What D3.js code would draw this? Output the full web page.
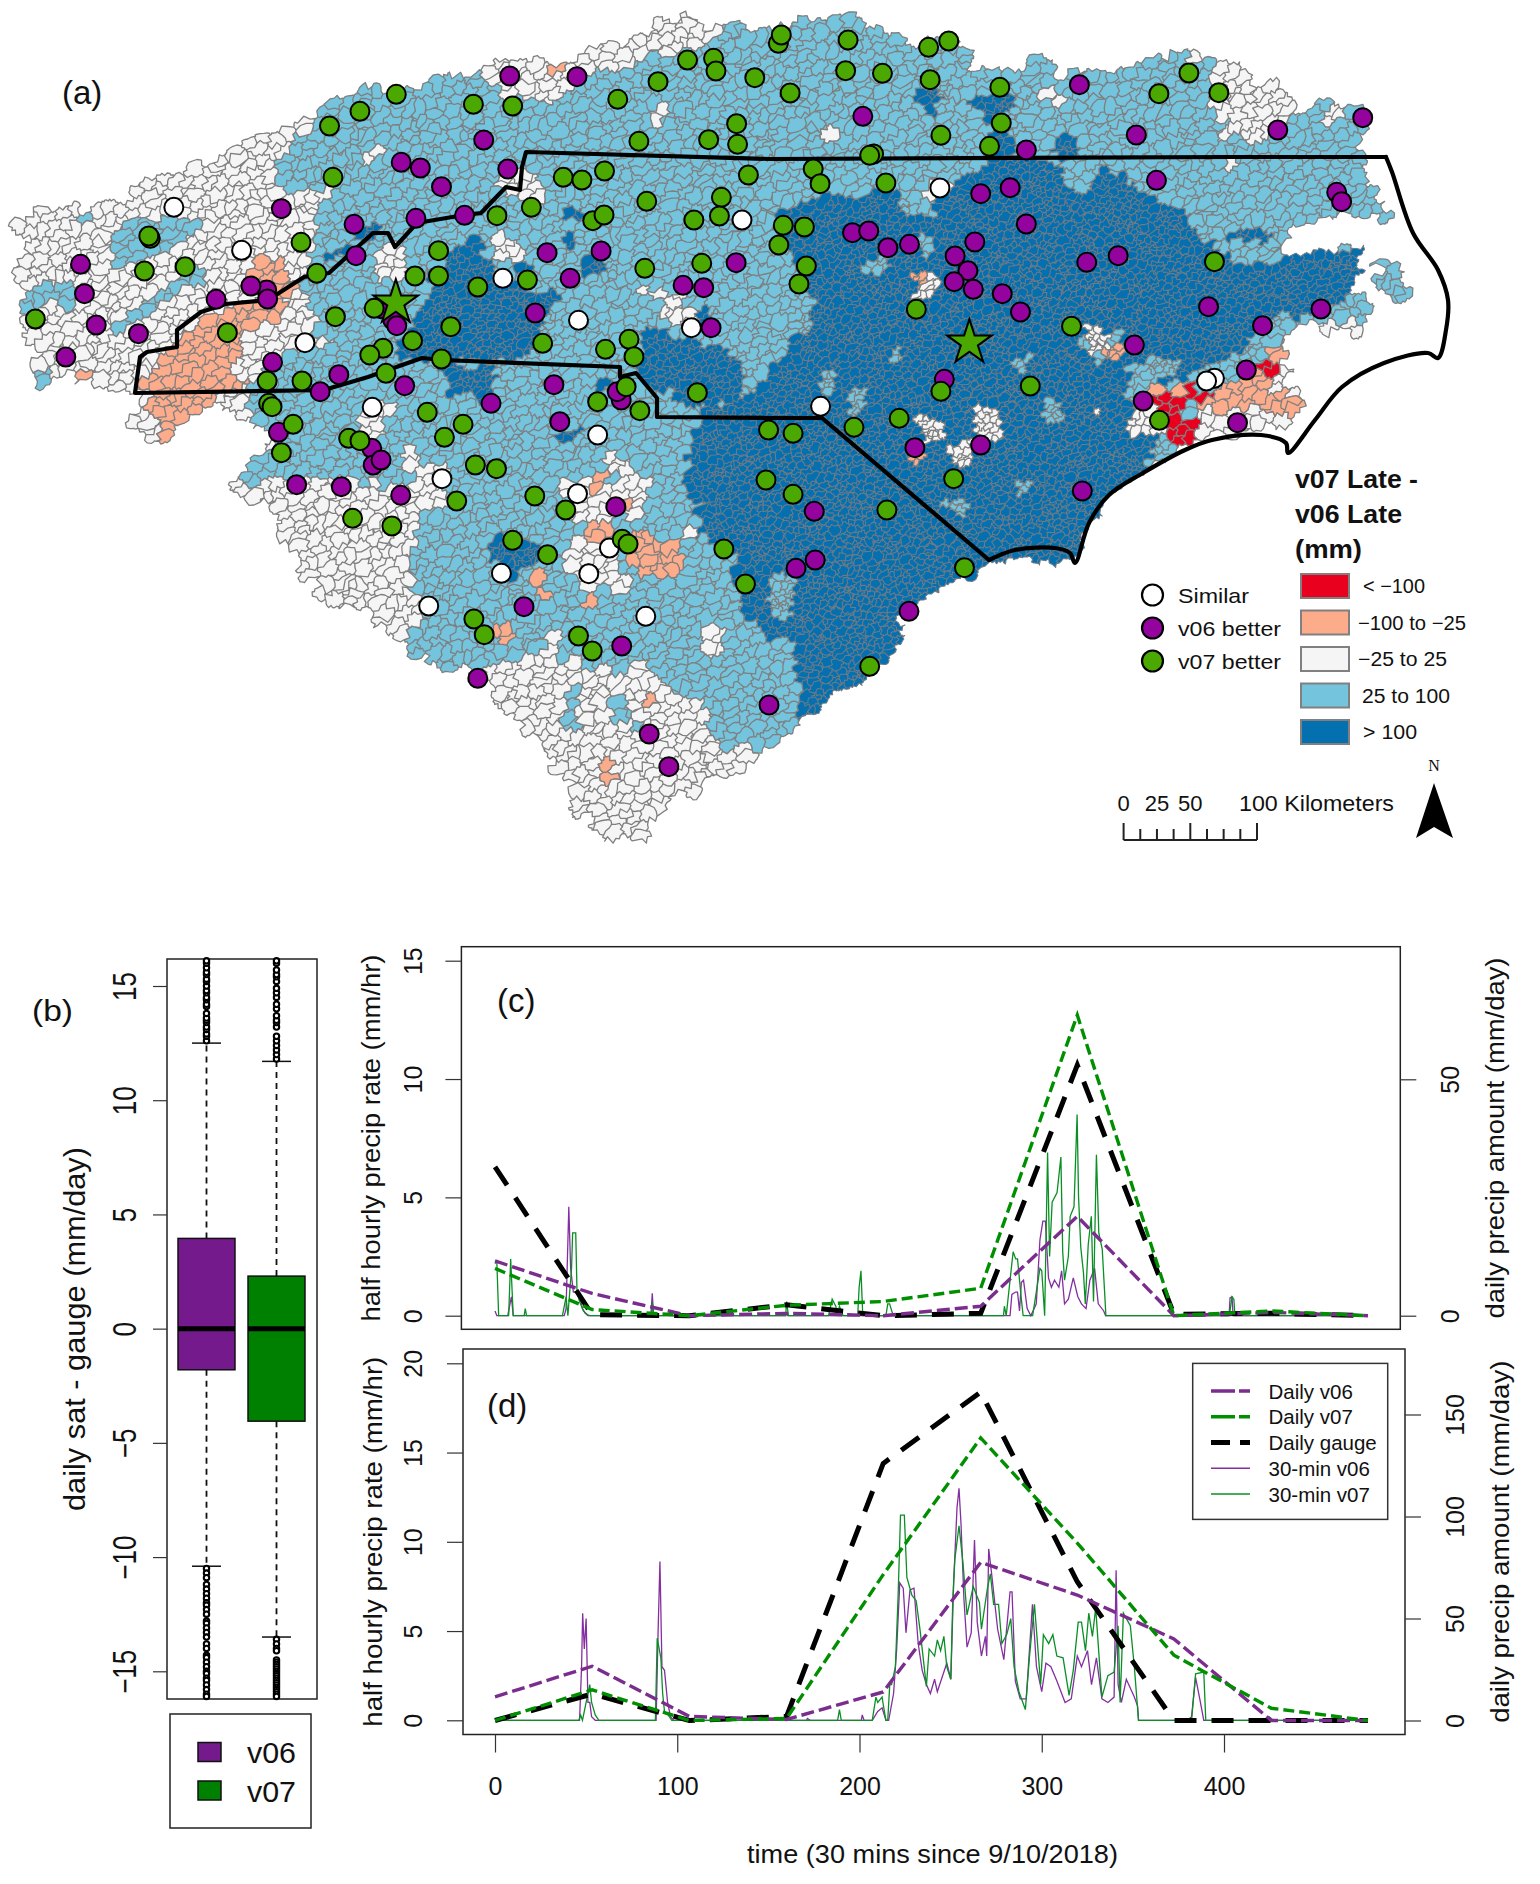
<!DOCTYPE html>
<html>
<head>
<meta charset="utf-8">
<script src="https://cdn.jsdelivr.net/npm/d3@7"></script>
<style>
  body { margin: 0; background: #fff; }
  svg { display: block; }
  text { font-family: "Liberation Sans", sans-serif; fill: #111; }
</style>
</head>
<body>
<div id="chart"></div>
<script>
// ---- panel (a): stations, read per map sheet (a sheet is 1568 x 1320 grid units)
const v07NW = [[807,283],[733,334],[671,378],[678,532],[964,313],[1044,318],[1400,180],[1453,175],[1458,213],[1537,233],[1340,245],[1258,298],[1500,371],[1443,419],[1502,433],[1301,424],[1524,525],[1147,532],[1185,540],[1231,513],[1317,604],[1469,592],[1465,648],[1413,660],[1207,662],[1230,645],[1082,622],[1012,647],[613,727],[893,752],[294,813],[377,800],[306,715],[303,708],[645,820],[845,828],[893,828],[973,861],[1074,840],[1313,805],[1429,790],[72,957],[683,950],[762,925],[463,998],[918,980],[840,1022],[780,1045],[753,1065],[899,1077],[1105,1030],[1281,1018],[1233,1048],[1291,1070],[786,1120],[615,1143],[544,1143],[547,1210],[554,1220],[1275,1160],[1217,1205],[1303,1232],[1420,1178],[870,1237],[943,1273],[597,1273],[710,1315],[905,1312],[1565,1290]];
const v06NW = [[1038,228],[1175,230],[985,420],[817,487],[856,504],[1034,507],[899,560],[573,626],[721,673],[847,655],[946,646],[725,767],[164,793],[172,881],[196,975],[282,1001],[134,1071],[440,898],[543,870],[511,858],[545,897],[1114,758],[1224,753],[1161,835],[1391,856],[1433,863],[1499,788],[775,926],[800,960],[808,977],[1090,939],[1448,983],[555,1087],[690,1124],[652,1175],[824,1157],[1128,1154],[1000,1210],[1140,1265],[1265,1200],[1257,1175],[567,1297]];
const similarNW = [[354,622],[492,751],[1024,835],[1178,961],[1408,983],[621,1028],[1511,660],[758,1222],[1217,1305]];
const v07NE = [[17,130],[23,105],[159,120],[323,142],[364,123],[154,212],[229,220],[326,239],[41,279],[468,262],[853,219],[792,281],[914,278],[471,369],[348,406],[447,439],[211,462],[203,466],[88,507],[102,551],[236,549],[27,676],[70,681],[18,735],[74,798],[59,852],[905,785],[298,928],[614,979],[348,1174],[530,1158],[263,1255],[171,1282],[793,1261],[47,1300]];
const v06NE = [[189,349],[630,254],[746,405],[1034,390],[1207,353],[522,450],[787,541],[489,563],[429,581],[1154,577],[1164,605],[522,672],[168,698],[201,693],[240,743],[284,733],[417,726],[377,768],[403,812],[375,845],[414,868],[473,881],[510,936],[645,787],[709,767],[893,920],[1122,927],[1003,977],[742,1035],[970,1110],[760,1203],[952,1268],[355,1138]];
const similarNE = [[346,564],[905,1135],[889,1143],[103,1219]];
const v07SW = [[573,98],[733,62],[968,135],[1011,146],[1089,228],[930,243],[1152,270],[718,295],[798,318],[1044,361],[1115,404],[1267,358],[1279,372],[1474,387],[1518,492],[965,597],[986,644],[1178,648],[1206,693],[1560,180]];
const v06SW = [[604,194],[695,200],[816,226],[757,85],[760,135],[776,120],[1254,260],[1067,560],[1266,678],[973,775],[1322,942],[1362,1040],[1566,855]];
const similarSW = [[900,176],[1176,221],[1241,384],[1021,460],[1199,461],[873,558],[1315,589]];
const v07SE = [[374,176],[47,223],[238,270],[396,443],[203,739]];
const v06SE = [[295,83],[429,75],[636,213],[90,274],[53,445],[92,420],[283,574]];
const starSites = [[806,905,'NW'],[406,1025,'NE']];

// ---- panel (a): region outlines in map grid units
const basinOutline = [[7,230],[61,202],[86,208],[115,208],[113,227],[137,177],[172,172],[216,160],[255,140],[319,113],[358,87],[408,87],[467,72],[516,57],[528,65],[565,58],[648,33],[661,20],[702,18],[707,27],[742,22],[770,32],[819,18],[844,15],[871,18],[876,30],[917,42],[966,43],[971,63],[996,77],[1038,60],[1065,75],[1114,67],[1178,53],[1219,62],[1266,82],[1281,90],[1293,108],[1325,103],[1367,102],[1374,128],[1362,143],[1362,170],[1384,203],[1386,217],[1335,218],[1305,220],[1281,237],[1268,247],[1310,248],[1335,250],[1364,245],[1359,263],[1354,293],[1372,305],[1354,333],[1325,330],[1308,317],[1298,333],[1281,353],[1281,370],[1305,407],[1291,420],[1291,427],[1261,430],[1212,438],[1185,450],[1143,473],[1109,495],[1089,523],[1074,560],[1000,560],[966,577],[927,593],[900,623],[898,653],[880,667],[853,683],[829,700],[799,723],[770,745],[737,767],[707,780],[688,798],[673,797],[670,810],[643,837],[616,838],[575,810],[577,793],[552,760],[486,690],[472,677],[437,668],[403,647],[378,620],[319,597],[305,573],[280,530],[280,513],[233,487],[255,463],[270,440],[246,420],[236,407],[211,403],[162,443],[157,443],[133,428],[133,417],[142,397],[113,390],[88,387],[74,370],[49,373],[45,388],[37,388],[34,363],[15,302],[34,287],[20,277],[29,250]];
const hatterasIsland = [[1379,257],[1400,262],[1406,285],[1404,300],[1385,298],[1379,280]];
const lightZones = [
  [[275,167],[320,113],[358,87],[408,87],[467,72],[510,95],[560,100],[600,75],[640,62],[690,50],[745,22],[770,32],[819,18],[844,15],[871,18],[917,42],[966,43],[996,77],[1038,60],[1065,75],[1114,67],[1178,53],[1210,62],[1215,110],[1225,135],[1281,135],[1293,108],[1325,103],[1367,102],[1374,128],[1362,170],[1384,203],[1386,217],[1305,220],[1268,247],[1364,245],[1354,293],[1372,305],[1354,333],[1300,317],[1281,353],[1281,370],[1250,395],[1143,473],[1074,560],[966,577],[880,667],[770,745],[720,750],[700,700],[640,680],[540,650],[491,673],[442,667],[403,647],[427,607],[408,577],[420,520],[417,487],[344,477],[305,480],[240,483],[240,467],[260,457],[275,440],[240,395],[315,333],[305,285],[310,240],[330,190],[275,190]],
  [[113,225],[205,215],[190,240],[150,262],[110,262]],
  [[15,300],[34,290],[64,283],[79,300],[49,310],[17,312]],
  [[105,330],[190,270],[205,275],[120,335]],
  [[37,373],[49,373],[45,388],[37,388]],
  [[78,210],[92,208],[92,222],[80,222]],
  [[555,690],[575,690],[590,735],[575,740]],
  [[600,700],[630,700],[640,730],[610,720]],
  hatterasIsland
];
const darkZones = [
  [[770,203],[819,203],[849,193],[893,187],[903,213],[932,217],[932,203],[971,167],[986,157],[1025,157],[1045,163],[1065,180],[1084,190],[1104,167],[1124,180],[1148,200],[1192,207],[1202,220],[1187,223],[1227,260],[1266,267],[1364,245],[1359,263],[1354,293],[1305,317],[1291,313],[1276,317],[1251,337],[1241,353],[1197,370],[1163,387],[1133,363],[1128,393],[1128,417],[1158,440],[1143,473],[1109,495],[1089,523],[1074,560],[1000,560],[966,577],[927,593],[900,623],[898,653],[880,667],[853,683],[829,700],[800,722],[795,640],[770,637],[751,613],[737,587],[737,553],[697,530],[702,507],[685,487],[688,463],[697,413],[740,400],[770,367],[790,340],[775,300],[795,270],[775,240]],
  [[638,333],[688,337],[740,360],[740,400],[690,407],[660,385],[650,390],[640,350]],
  [[467,230],[484,243],[491,267],[521,287],[565,297],[545,307],[540,337],[535,353],[501,360],[442,358],[403,357],[412,313],[427,287],[457,243]],
  [[442,363],[496,367],[491,400],[455,393]],
  [[585,372],[620,380],[620,390],[588,385]],
  [[560,200],[570,198],[585,220],[575,222]],
  [[555,227],[570,227],[575,245],[560,245]],
  [[510,260],[530,260],[535,272],[515,272]],
  [[585,262],[605,255],[610,270],[590,275]],
  [[592,137],[610,150],[605,155],[590,143]],
  [[345,227],[378,225],[375,240],[350,243]],
  [[330,247],[345,247],[345,255],[330,255]],
  [[700,310],[715,317],[712,330],[700,325]],
  [[912,90],[938,85],[940,120],[930,118]],
  [[974,100],[1000,85],[1020,100],[1000,118],[1015,160],[1000,160],[990,125]],
  [[790,130],[808,122],[810,135],[795,135]],
  [[1055,135],[1075,125],[1078,160],[1060,165]],
  [[1100,140],[1112,140],[1115,155],[1105,155]],
  [[1219,230],[1266,225],[1270,240],[1240,240]],
  [[487,540],[515,540],[525,545],[545,540],[535,565],[520,565],[510,600],[497,590],[505,565],[487,555]],
  [[560,427],[578,430],[578,443],[565,443]]
];
const lightHoles = [
  [[893,347],[903,347],[900,360],[895,360]],[[1016,358],[1030,358],[1025,370],[1016,370]],
  [[820,373],[833,373],[833,390],[820,390]],[[849,387],[868,387],[860,413],[850,413]],
  [[1045,403],[1060,403],[1060,420],[1045,420]],[[1015,480],[1035,480],[1030,495],[1018,495]],
  [[942,500],[970,500],[970,517],[960,517]],[[770,573],[795,573],[795,617],[770,617]],
  [[770,225],[780,225],[810,300],[808,335],[790,335],[785,300]],[[863,257],[888,257],[885,273],[865,273]],
  [[917,237],[932,237],[930,257],[918,257]],[[1143,360],[1178,360],[1178,377],[1143,377]],
  [[1075,337],[1120,330],[1125,362],[1095,365]]
];
const whiteHoles = [
  [[651,90],[665,95],[668,140],[655,135]],[[535,100],[590,70],[598,75],[545,105]],[[370,145],[395,145],[365,160]],
  [[490,178],[520,172],[550,200],[525,205]],[[490,233],[510,233],[525,260],[500,265]],[[375,245],[410,250],[405,275],[375,275]],
  [[640,285],[680,290],[700,330],[660,315]],[[290,335],[330,335],[325,350],[290,350]],[[360,400],[395,400],[385,440],[360,440]],
  [[407,450],[450,470],[445,510],[420,510]],[[604,457],[634,457],[634,470],[604,470]],[[565,480],[650,475],[650,520],[570,520]],
  [[570,543],[620,540],[630,590],[575,590]],[[540,635],[560,635],[555,665]],[[625,663],[660,663],[660,700],[625,700]],
  [[505,680],[540,700],[530,710],[505,695]],[[697,620],[722,620],[722,655],[697,650]],[[677,527],[695,527],[695,545]],
  [[818,120],[838,120],[838,145],[818,145]],[[1040,88],[1065,85],[1065,118],[1060,118],[1045,95]],[[1195,137],[1208,137],[1208,145],[1195,145]],
  [[1222,157],[1232,157],[1232,175],[1222,175]],[[1325,105],[1345,105],[1345,125],[1325,125]],[[917,183],[945,183],[945,200],[920,200]],
  [[915,273],[945,273],[930,298],[912,298]],[[1085,327],[1105,327],[1110,350],[1090,350]],[[1280,330],[1295,330],[1290,350],[1280,350]],
  [[1364,293],[1380,293],[1378,307],[1362,307]],[[1310,317],[1355,317],[1355,333],[1310,333]],[[1128,407],[1163,407],[1163,440],[1128,433]],
  [[1197,407],[1261,407],[1261,430],[1197,435]],[[1094,405],[1100,405],[1100,417],[1094,417]],[[917,417],[947,417],[947,440],[925,440]],
  [[971,407],[1000,407],[1000,440],[975,440]],[[947,440],[972,440],[972,465],[950,465]]
];
const orangeZones = [
  [[255,258],[290,262],[295,290],[278,322],[262,320],[240,345],[235,370],[240,385],[215,390],[212,412],[190,420],[165,445],[158,430],[148,400],[135,392],[155,360],[175,345],[195,325],[228,305],[265,303],[255,283]],
  [[80,375],[96,375],[96,388],[85,388]],[[545,60],[565,58],[562,75],[550,75]],
  [[628,535],[650,533],[670,540],[685,575],[660,590],[650,580],[628,565]],[[592,475],[610,475],[615,490],[592,492]],
  [[620,495],[633,495],[632,522],[622,518]],[[587,525],[610,525],[615,540],[587,540]],[[538,570],[553,570],[552,603],[537,593]],
  [[585,597],[597,597],[595,615],[587,615]],[[484,613],[505,625],[512,640],[500,645],[490,633]],[[643,690],[660,690],[660,707],[645,707]],
  [[602,763],[614,763],[608,785]],[[912,270],[927,270],[925,285],[914,285]],[[1104,348],[1120,348],[1118,362],[1106,362]],
  [[910,453],[925,453],[916,467]],[[1340,328],[1346,328],[1344,335]],
  [[1148,385],[1190,388],[1215,390],[1240,375],[1262,365],[1265,345],[1280,345],[1283,365],[1270,385],[1285,395],[1305,405],[1290,415],[1260,410],[1230,410],[1200,407],[1170,410],[1148,400]]
];
const redZones = [
  [[1155,397],[1198,385],[1202,398],[1186,408],[1196,430],[1200,442],[1187,452],[1168,442],[1166,428],[1156,422]],
  [[1258,360],[1278,360],[1275,375],[1262,373]],[[1203,391],[1212,391],[1212,400],[1203,400]]
];
const landBorder = [[822,418],[770,418],[657,417],[657,398],[636,373],[620,377],[620,367],[442,360],[422,358],[368,377],[324,390],[135,393],[140,357],[147,352],[177,347],[177,330],[201,312],[226,304],[268,300],[304,277],[329,273],[373,233],[388,233],[395,247],[417,223],[464,215],[481,213],[506,187],[520,190],[522,167],[526,152],[770,159],[1232,157],[1386,157]];
const coastLine = [[1386,157],[1392,172],[1413,233],[1438,270],[1448,300],[1446,330],[1438,358],[1428,353],[1384,363],[1342,387],[1315,420],[1288,453],[1286,443],[1261,435],[1212,440],[1185,450],[1143,473],[1109,495],[1089,523],[1075,563],[1070,553],[1055,548],[1015,550],[989,560]];
const seaBorder = [[989,560],[822,418]];

const classLegend = ['< −100', '−100 to −25', '−25 to 25', '25 to 100', '> 100'];
const classColors = ['#e8001e', '#fcab8b', '#f5f5f5', '#74c4de', '#0570b0'];
const siteLegend = ['Similar', 'v06 better', 'v07 better'];
const siteColors = ['#ffffff', '#95039f', '#4aa800'];
const scaleTicksKm = [0, 12.5, 25, 37.5, 50, 62.5, 75, 87.5, 100];

// ---- panel (b): box plot values
const boxNames = ['v06', 'v07'];
const boxColors = ['#751a8c', '#008000'];
const boxQ1 = [-1.8, -4.05];
const boxMedian = [0, 0];
const boxQ3 = [3.95, 2.3];
const whiskerLow = [-10.4, -13.5];
const whiskerHigh = [12.5, 11.7];
const outliersV06 = [12.6,12.8,12.9,13.1,13.2,13.4,13.5,13.6,13.8,14.1,14.2,14.4,14.5,14.7,14.8,15,15.2,15.3,15.5,15.6,15.8,16,16.1,-10.5,-10.7,-10.9,-11.2,-11.4,-11.6,-11.8,-12,-12.1,-12.3,-12.5,-12.8,-12.9,-13.1,-13.3,-13.5,-13.8,-14,-14.3,-14.4,-14.6,-14.8,-15,-15.1,-15.3,-15.4,-15.6,-15.8,-16,-16.1];
const outliersV07 = [11.8,12,12.2,12.4,12.6,12.8,13.2,13.4,13.5,13.7,14,14.2,14.5,14.7,14.9,15.2,15.4,15.5,15.7,16,16.1,-13.6,-13.8,-14,-14.1,-14.5,-14.6,-14.7,-14.8,-14.9,-15,-15.1,-15.2,-15.3,-15.4,-15.5,-15.6,-15.7,-15.8,-15.9,-16,-16.1];

// ---- panels (c) and (d): daily knots share one time axis
const dailyTimes = [0, 53.3, 106.6, 160, 213, 266.5, 319.5, 372.5, 426, 479];
const cDailyV06 = [11.6, 4.7, 0, 0.5, 0, 2, 21, 0, 0.7, 0];
const cDailyV07 = [10, 1.3, 0, 2.2, 3, 5.8, 63.6, 0, 1, 0];
const cDailyGauge = [31.5, 0.2, 0, 2.3, 0, 0.5, 53, 0.3, 0.5, 0];
const dDailyV06 = [11.6, 26.6, 2, 0.5, 14, 77.5, 61.5, 40, 0, 0];
const dDailyV07 = [0, 15, 0, 1, 71.5, 138.5, 87, 32, 6, 0];
const dDailyGauge = [0, 13, 0, 2, 126, 161, 68, 0, 0, 0];

const cHalfV06 = [[0,0.2],[1,0],[7,0],[8,0.4],[9,0.8],[10,0],[38,0],[39,0.3],[40.5,4.6],[41.5,2],[43,1],[44.3,1],[46.4,0.85],[48,0.3],[49.5,0.1],[51,0],[85.5,0],[86.3,0.95],[87,0],[159.5,0],[160,0.1],[160.6,0],[282.6,0],[283.6,0.9],[285.7,1],[286.7,1],[287.8,0.2],[288.8,1.4],[290,1.5],[292,0.3],[294,0],[297,0.5],[299,3.2],[300.6,4],[302,4],[303.7,1.6],[305.3,1.2],[307,1.5],[309.4,1.2],[310.9,1.9],[312.5,0.5],[314.6,0.7],[317.3,1.6],[319.8,0.8],[321.8,0.5],[324.3,0.3],[326.4,1.5],[329,2],[331,0.5],[334,0.2],[335,0],[402.8,0],[403.3,0.75],[404.4,0.8],[405,0],[479,0]];
const cHalfV07 = [[0,2.2],[1,2.3],[2,0],[4,0],[7.5,0],[8.6,2.4],[10,0],[16,0],[16.6,0.3],[17.3,0],[37,0],[39,0.8],[40,0],[42,2],[42.6,3.5],[44.3,3.5],[45,1],[46.4,0.6],[48.5,0.2],[50.6,0.05],[52,0],[85.8,0],[86.3,0.6],[87,0],[159.5,0],[160,0.6],[161,0],[183,0],[185,0.7],[187,0.4],[188,0],[189,0.4],[191,0],[199,0],[199.8,1.2],[200.8,1.9],[201.8,0],[214.5,0],[215.5,0.5],[216.5,0.5],[218.5,0],[279,0],[279.5,0.4],[280.5,0],[282.6,1.5],[284.3,2.7],[285.7,2.4],[286.7,2.4],[288.8,0.7],[289.8,0],[295,0],[297,1],[299,2],[300,1.9],[301.6,0],[303.2,6.9],[304.3,2.5],[305.7,4.8],[308.4,5.2],[310.5,6.7],[311.5,2.7],[312.5,1.5],[314.6,2.5],[315.6,4.2],[317.7,4.6],[319.4,8.5],[320.2,5],[321.4,2.9],[322.9,1.8],[323.9,0.5],[325.5,3],[327.2,4.2],[328.4,0.6],[330,6.8],[331.3,3.5],[333.2,2.8],[335.2,0],[402.5,0],[403.3,0.2],[404.4,0.8],[405.4,0.7],[406,0],[479,0]];
const dHalfV06 = [[0,0],[46.4,0],[47.5,3],[48.1,6],[49,4],[50,5.7],[51,1],[52,1],[53,0.2],[55,0],[88.4,0],[89.5,5],[90.5,8.9],[91.6,3],[93,2.8],[94.7,1],[96.3,0.2],[98,0],[171,0],[171.4,0.1],[173,0],[201,0],[201.5,0.3],[202.5,0],[207,0],[210,0.5],[212.4,0.7],[214.5,0],[216,0],[218.7,1.5],[220.4,4],[222.1,7.7],[224,7.4],[225.5,4.9],[227.7,7.3],[229.9,7.4],[232.2,4.3],[234.4,2.8],[236.7,2],[238.9,1.5],[241.2,2.3],[242.7,1.6],[245.6,2.5],[247.9,3.2],[250.1,2.3],[251.7,7.8],[253.5,11.9],[254.6,13],[255.7,11],[257.3,6.8],[259,4.1],[261.3,4.9],[263.1,10.1],[264.6,5.5],[266.9,3.6],[269.1,4.7],[269.8,3.6],[270.9,9.6],[272.5,8.2],[275.8,5.1],[279.2,3.4],[282.6,7.2],[283.7,7.2],[285.5,2.2],[288.2,1.2],[291.5,1.2],[294.9,6.5],[297.1,3],[300,1.6],[302.3,3.2],[305,3],[308.3,2.2],[312.8,1],[316.2,1.2],[319.5,3.6],[321.8,3],[325.1,3.9],[327.3,2],[330,3.5],[333,1.2],[336.3,1],[339.7,1.3],[340.8,8.4],[341.9,2],[343.7,1],[346.4,2.3],[350.8,1.3],[352.6,0.8],[353.1,0],[380,0],[382.2,0.2],[384.4,2.4],[386.7,1.2],[388.9,0],[479,0]];
const dHalfV07 = [[0,0],[46,0],[47,0.3],[48,0],[50,1],[52,2],[53,1],[55,0.3],[57,0],[88,0],[89,4.6],[91,3.5],[92,1.5],[93,0.5],[95,0.3],[97,0],[188,0],[189,0.6],[190,0],[207,0],[209,1.3],[210,1],[212.4,1.3],[213,0.9],[214.5,0],[215.5,0],[216.6,2],[217.6,2],[219.7,3],[221.2,7],[222.5,11.5],[224.6,11.5],[226,8],[228.8,7],[231.1,6.7],[233.3,5],[236.7,1.9],[238.2,4],[241.2,3.6],[242.7,4.5],[244.5,3.9],[246.3,4.7],[247.9,3],[250.1,2.3],[251.2,6.8],[252.3,9],[254.6,10.9],[256.8,8.8],[259,5.9],[262.4,7.5],[265.8,6.6],[266.9,5.1],[270.2,7.4],[271.8,8.2],[273.6,6.5],[276.3,6.5],[278.1,4.3],[280.8,4.8],[283,5.7],[284.8,3],[287.5,1.6],[291,0.6],[293.3,3.6],[296,6.5],[299.4,2],[300.9,4.8],[303.8,4.3],[306.1,4.8],[308.3,3.6],[311.7,3.5],[315,1.4],[317.3,2.8],[320,5.5],[321.8,5.5],[324,3.9],[325.8,6],[327.8,4.7],[329.6,6.3],[333,1.3],[336.3,2.5],[339.7,2.7],[341.9,5.3],[343,1],[344.8,6],[348.6,5.3],[350.8,3],[353.1,0],[382.2,0],[384.4,2.6],[388.9,2.7],[390,0],[424,0],[424.8,0.2],[427,0],[479,0]];

const legendNames = ['Daily v06', 'Daily v07', 'Daily gauge', '30-min v06', '30-min v07'];

const W = 1540, H = 1884;
const svg = d3.select('#chart').append('svg').attr('width', W).attr('height', H).attr('viewBox', [0, 0, W, H]);

function label(parent, txt, x, y, o = {}) {
  const t = parent.append('text')
    .attr('transform', `translate(${x},${y})` + (o.rotate ? ` rotate(${o.rotate})` : ''))
    .attr('font-size', o.size || 24).attr('dominant-baseline', 'central')
    .attr('text-anchor', o.anchor || 'start').text(txt);
  if (o.weight) t.attr('font-weight', o.weight);
  if (o.family) t.style('font-family', o.family);
  if (o.len) t.attr('textLength', o.len).attr('lengthAdjust', 'spacingAndGlyphs');
  return t;
}

// ---- watershed mesh: the cell layout is only a texture, colours come from the zones above
function drawMesh(g) {
  const noise = (a, b) => { const s = Math.sin(a * 12.9898 + b * 78.233) * 43758.5453; return s - Math.floor(s); };
  // lattice units are stretched along the SW-NE ridge direction when mapped to the sheet
  const cos = Math.cos(-0.5), sin = Math.sin(-0.5), long = 14.5, wide = 10;
  const toMap = ([u, v]) => [700 + long * u * cos - wide * v * sin, 420 + long * u * sin + wide * v * cos];
  const sites = [];
  const keep = p => d3.polygonContains(basinOutline, p) || d3.polygonContains(hatterasIsland, p);
  const inAny = (zones, p) => zones.some(z => d3.polygonContains(z, p));
  for (let i = -70; i <= 70; i++) {
    for (let j = -100; j <= 100; j++) {
      const s = [i + (j % 2) * 0.5 + (noise(i, j) - 0.5) * 0.95, j + (noise(j + 7, i + 3) - 0.5) * 0.95];
      const m = toMap(s);
      if (m[0] < -40 || m[0] > W + 40 || m[1] < -40 || m[1] > 920) continue;
      sites.push(s);
      // the coastal plain has finer watersheds
      if (inAny(darkZones, m)) {
        sites.push([s[0] + 0.5, s[1] + 0.35 + noise(i, j + 5) * 0.3]);
        sites.push([s[0] + 0.1, s[1] + 0.62]);
      }
    }
  }
  const classify = p => {
    if (inAny(redZones, p)) return 0;
    if (inAny(orangeZones, p)) return 1;
    if (inAny(whiteHoles, p)) return 2;
    if (inAny(lightHoles, p)) return 3;
    if (inAny(darkZones, p)) return 4;
    if (inAny(lightZones, p)) return 3;
    return 2;
  };
  // shared edges get the same two kinks from both neighbouring cells
  const kinks = (a, b) => {
    const flip = a[0] > b[0] || (a[0] === b[0] && a[1] > b[1]);
    const [p, q] = flip ? [b, a] : [a, b];
    const dx = q[0] - p[0], dy = q[1] - p[1];
    const h1 = (noise(p[0], q[1]) - 0.5) * 0.7, h2 = (noise(q[0], p[1]) - 0.5) * 0.7;
    const pts = [[p[0] + dx / 3 - dy * h1, p[1] + dy / 3 + dx * h1], [p[0] + dx * 2 / 3 - dy * h2, p[1] + dy * 2 / 3 + dx * h2]];
    return flip ? pts.reverse() : pts;
  };
  const voronoi = d3.Delaunay.from(sites).voronoi([-90, -120, 90, 120]);
  const paths = classColors.map(() => []);
  sites.forEach((s, i) => {
    const p = toMap(s);
    if (!keep(p)) return;
    const cell = voronoi.cellPolygon(i);
    if (!cell) return;
    const pts = cell.map(toMap);
    let d = `M${pts[0][0].toFixed(1)},${pts[0][1].toFixed(1)}`;
    for (let k = 0; k < pts.length - 1; k++) {
      [...kinks(pts[k], pts[k + 1]), pts[k + 1]].forEach(c => { d += `L${c[0].toFixed(1)},${c[1].toFixed(1)}`; });
    }
    paths[classify(p)].push(d + 'Z');
  });
  [4, 3, 2, 1, 0].forEach(c => {
    g.append('path').attr('d', paths[c].join(''))
      .attr('fill', classColors[c])
      .attr('stroke', c === 4 ? '#707a84' : '#7f7f7f')
      .attr('stroke-width', c === 4 ? 1.05 : 1.3).attr('stroke-linejoin', 'round');
  });
}

function drawMap() {
  const g = svg.append('g');
  drawMesh(g);
  const borders = [[landBorder, d3.curveLinear], [seaBorder, d3.curveLinear], [coastLine, d3.curveCatmullRom]];
  borders.forEach(([pts, curve]) => {
    g.append('path').attr('d', d3.line().curve(curve)(pts)).attr('fill', 'none').attr('stroke', '#000')
      .attr('stroke-width', 4.2).attr('stroke-linejoin', 'round').attr('stroke-linecap', 'round');
  });

  const sheetX = x0 => d3.scaleLinear([0, 1568], [x0, x0 + 770]);
  const sheetY = y0 => d3.scaleLinear([0, 1320], [y0, y0 + 440]);
  const sheets = { NW: [sheetX(0), sheetY(0)], NE: [sheetX(770), sheetY(0)], SW: [sheetX(0), sheetY(420)], SE: [sheetX(770), sheetY(420)] };
  const layers = [
    [v06NW, 'NW', 1], [v06NE, 'NE', 1], [v06SW, 'SW', 1], [v06SE, 'SE', 1],
    [similarNW, 'NW', 0], [similarNE, 'NE', 0], [similarSW, 'SW', 0],
    [v07NW, 'NW', 2], [v07NE, 'NE', 2], [v07SW, 'SW', 2], [v07SE, 'SE', 2]
  ];
  layers.forEach(([pts, sheet, cls]) => {
    const [sx, sy] = sheets[sheet];
    g.append('g').selectAll('circle').data(pts).join('circle')
      .attr('cx', d => sx(d[0])).attr('cy', d => sy(d[1])).attr('r', 9.5)
      .attr('fill', siteColors[cls]).attr('stroke', '#000').attr('stroke-width', 2);
  });
  const star = d3.symbol().type(d3.symbolStar).size(620);
  g.append('g').selectAll('path').data(starSites).join('path')
    .attr('d', star)
    .attr('transform', d => `translate(${sheets[d[2]][0](d[0])},${sheets[d[2]][1](d[1]) + 1})`)
    .attr('fill', siteColors[2]).attr('stroke', '#000').attr('stroke-width', 2);

  label(svg, '(a)', 62, 92, { size: 33 });

  // legends
  ['v07 Late -', 'v06 Late', '(mm)'].forEach((t, i) => {
    label(svg, t, 1295, 479 + i * 35, { size: 25, weight: 'bold', len: [123, 107, 67][i] });
  });
  const rowY = d3.scalePoint(classLegend, [586, 732]);
  const rows = svg.append('g').selectAll('g').data(classLegend).join('g');
  rows.append('rect').attr('x', 1301).attr('y', d => rowY(d) - 12).attr('width', 48).attr('height', 24)
    .attr('fill', (d, i) => classColors[i]).attr('stroke', '#808080').attr('stroke-width', 2);
  rows.each(function (d, i) {
    label(d3.select(this), d, [1363, 1358, 1358, 1362, 1363][i], rowY(d), { size: 20, len: [62, 108, 89, 88, 54][i] });
  });
  const siteY = d3.scalePoint(siteLegend, [595, 661]);
  siteLegend.forEach((d, i) => {
    svg.append('circle').attr('cx', 1152.5).attr('cy', siteY(d)).attr('r', 10.5)
      .attr('fill', siteColors[i]).attr('stroke', '#000').attr('stroke-width', 2.2);
    label(svg, d, 1178, siteY(d), { size: 21, len: [71, 103, 103][i] });
  });

  // scale bar and north arrow
  const km = d3.scaleLinear([0, 100], [1123.6, 1257]);
  const bar = svg.append('g').attr('stroke', '#222').attr('stroke-width', 2);
  bar.append('line').attr('x1', km(0)).attr('x2', km(100)).attr('y1', 840).attr('y2', 840);
  bar.selectAll('.t').data(scaleTicksKm).join('line').attr('class', 't')
    .attr('x1', km).attr('x2', km).attr('y1', 840).attr('y2', d => d % 50 === 0 ? 823 : 829);
  label(svg, '0', km(0), 803, { size: 22, anchor: 'middle' });
  label(svg, '25', km(25), 803, { size: 22, anchor: 'middle' });
  label(svg, '50', km(50), 803, { size: 22, anchor: 'middle' });
  label(svg, '100 Kilometers', 1239, 803, { size: 22, len: 155 });
  svg.append('path').attr('d', d3.line()([[1434, 783], [1453, 838], [1434, 827], [1416, 838]]) + 'Z').attr('fill', '#000');
  label(svg, 'N', 1434, 765, { size: 16, anchor: 'middle', family: '"Liberation Serif", serif' });
}

function drawBox() {
  const y = d3.scaleLinear([-15, 15], [1671.3, 986]);
  const x = d3.scaleBand(boxNames, [171.5, 311.5]).paddingInner(0.186).paddingOuter(0.093);
  svg.append('rect').attr('x', 167).attr('y', 959).attr('width', 150).attr('height', 740)
    .attr('fill', 'none').attr('stroke', '#222').attr('stroke-width', 1.5);
  const ax = svg.append('g').attr('transform', 'translate(167,0)')
    .call(d3.axisLeft(y).tickValues([-15, -10, -5, 0, 5, 10, 15]).tickSize(14));
  ax.select('.domain').remove();
  ax.selectAll('line').attr('stroke', '#333').attr('stroke-width', 1.2);
  // this panel is stretched in the source figure, so its digits are taller than they are long
  ax.selectAll('text').attr('transform', 'rotate(-90) scale(1,1.25)').attr('x', 0).attr('y', -34).attr('text-anchor', 'middle')
    .attr('font-size', 26).attr('dy', '.35em').style('font-family', '"Liberation Sans"').attr('fill', '#111');
  label(svg, 'daily sat - gauge (mm/day)', 75, 1329, { size: 29, rotate: -90, anchor: 'middle', len: 364 });
  label(svg, '(b)', 32, 1010, { size: 30, len: 41 });

  boxNames.forEach((name, i) => {
    const cx = x(name) + x.bandwidth() / 2;
    const g = svg.append('g');
    g.selectAll('line.w').data([[boxQ3[i], whiskerHigh[i]], [boxQ1[i], whiskerLow[i]]]).join('line')
      .attr('x1', cx).attr('x2', cx).attr('y1', d => y(d[0])).attr('y2', d => y(d[1]))
      .attr('stroke', '#111').attr('stroke-width', 1.8).attr('stroke-dasharray', '6 5');
    g.selectAll('line.c').data([whiskerHigh[i], whiskerLow[i]]).join('line').attr('class', 'c')
      .attr('x1', cx - 14.5).attr('x2', cx + 14.5).attr('y1', y).attr('y2', y)
      .attr('stroke', '#111').attr('stroke-width', 1.5);
    g.append('rect').attr('x', x(name)).attr('width', x.bandwidth())
      .attr('y', y(boxQ3[i])).attr('height', y(boxQ1[i]) - y(boxQ3[i]))
      .attr('fill', boxColors[i]).attr('stroke', '#111').attr('stroke-width', 1.5);
    g.append('line').attr('x1', x(name)).attr('x2', x(name) + x.bandwidth())
      .attr('y1', y(boxMedian[i])).attr('y2', y(boxMedian[i])).attr('stroke', '#000').attr('stroke-width', 5);
    g.selectAll('circle').data(i === 0 ? outliersV06 : outliersV07).join('circle')
      .attr('cx', cx).attr('cy', y).attr('r', 2.7)
      .attr('fill', '#fff').attr('stroke', '#000').attr('stroke-width', 2.1);

    // legend below the box
    svg.append('rect').attr('x', 198).attr('y', [1742.5, 1781][i]).attr('width', 23).attr('height', 19)
      .attr('fill', boxColors[i]).attr('stroke', '#111').attr('stroke-width', 1.5);
    label(svg, name, 247, [1753, 1792][i], { size: 29, len: 49 });
  });
  svg.append('rect').attr('x', 170).attr('y', 1714).attr('width', 141).attr('height', 114)
    .attr('fill', 'none').attr('stroke', '#222').attr('stroke-width', 1.5);
}

const timeX = d3.scaleLinear([0, 400], [495, 1224]);
const dash = { v06: '13 5', v07: '11 5', gauge: '22 15' };
const lineColors = { v06: '#7b2d8e', v07: '#008f00', halfV06: '#842fa0', halfV07: '#0a8f25' };

function drawPanel(o) {
  const [x0, x1, y0, y1] = o.frame;
  const left = d3.scaleLinear(o.leftDomain, o.leftRange);
  const right = d3.scaleLinear(o.rightDomain, o.rightRange);
  const g = svg.append('g');

  const thin = d3.line().x(d => timeX(d[0])).y(d => left(d[1]));
  const daily = d3.line().x((d, i) => timeX(dailyTimes[i])).y(d => right(d));
  g.append('path').attr('d', thin(o.halfV06)).attr('fill', 'none').attr('stroke', lineColors.halfV06).attr('stroke-width', 1.3);
  g.append('path').attr('d', thin(o.halfV07)).attr('fill', 'none').attr('stroke', lineColors.halfV07).attr('stroke-width', 1.3);
  g.append('path').attr('d', daily(o.gauge)).attr('fill', 'none').attr('stroke', '#000').attr('stroke-width', 5).attr('stroke-dasharray', dash.gauge);
  g.append('path').attr('d', daily(o.v06)).attr('fill', 'none').attr('stroke', lineColors.v06).attr('stroke-width', 3.4).attr('stroke-dasharray', dash.v06);
  g.append('path').attr('d', daily(o.v07)).attr('fill', 'none').attr('stroke', lineColors.v07).attr('stroke-width', 3.4).attr('stroke-dasharray', dash.v07);

  svg.append('rect').attr('x', x0).attr('y', y0).attr('width', x1 - x0).attr('height', y1 - y0)
    .attr('fill', 'none').attr('stroke', '#222').attr('stroke-width', 1.5);

  const styleAxis = (a, offset) => {
    a.select('.domain').remove();
    a.selectAll('line').attr('stroke', '#333').attr('stroke-width', 1.2);
    a.selectAll('text').attr('transform', 'rotate(-90)').attr('x', 0).attr('y', offset).attr('text-anchor', 'middle')
      .attr('font-size', 25).attr('dy', '.35em').style('font-family', '"Liberation Sans"').attr('fill', '#111');
  };
  styleAxis(svg.append('g').attr('transform', `translate(${x0},0)`)
    .call(d3.axisLeft(left).tickValues(o.leftTicks).tickSize(16)), -o.leftOffset);
  styleAxis(svg.append('g').attr('transform', `translate(${x1},0)`)
    .call(d3.axisRight(right).tickValues(o.rightTicks).tickSize(16)), o.rightOffset);

  label(svg, 'half hourly precip rate (mm/hr)', x0 - 90, o.labelY, { size: 26, rotate: -90, anchor: 'middle', len: o.leftLen });
  label(svg, 'daily precip amount (mm/day)', x1 + 95, o.labelY, { size: 26, rotate: -90, anchor: 'middle', len: o.rightLen });
  label(svg, o.tag[0], o.tag[1], o.tag[2], { size: 33 });
  return g;
}

function drawPrecip() {
  drawPanel({
    frame: [461.4, 1400.3, 946.7, 1329.3],
    leftDomain: [0, 15], leftRange: [1315.7, 960.7], leftTicks: [0, 5, 10, 15], leftOffset: 48,
    rightDomain: [0, 50], rightRange: [1315.7, 1079.3], rightTicks: [0, 50], rightOffset: 50,
    labelY: 1138, leftLen: 367, rightLen: 361, tag: ['(c)', 497, 1000],
    halfV06: cHalfV06, halfV07: cHalfV07, v06: cDailyV06, v07: cDailyV07, gauge: cDailyGauge
  });
  drawPanel({
    frame: [463, 1405, 1349, 1734.5],
    leftDomain: [0, 20], leftRange: [1720.3, 1363.3], leftTicks: [0, 5, 10, 15, 20], leftOffset: 50,
    rightDomain: [0, 150], rightRange: [1720.5, 1414.5], rightTicks: [0, 50, 100, 150], rightOffset: 50,
    labelY: 1541.7, leftLen: 370, rightLen: 362, tag: ['(d)', 487, 1405],
    halfV06: dHalfV06, halfV07: dHalfV07, v06: dDailyV06, v07: dDailyV07, gauge: dDailyGauge
  });

  const xAxis = svg.append('g').attr('transform', 'translate(0,1734.5)')
    .call(d3.axisBottom(timeX).tickValues([0, 100, 200, 300, 400]).tickSize(18));
  xAxis.select('.domain').remove();
  xAxis.selectAll('line').attr('stroke', '#333').attr('stroke-width', 1.2);
  xAxis.selectAll('text').attr('y', 52).attr('dy', '.35em').attr('font-size', 25)
    .style('font-family', '"Liberation Sans"').attr('fill', '#111');
  label(svg, 'time (30 mins since 9/10/2018)', 932.5, 1854, { size: 25, anchor: 'middle', len: 371 });

  // legend of panel (d)
  svg.append('rect').attr('x', 1192.7).attr('y', 1363.4).attr('width', 195).attr('height', 156)
    .attr('fill', '#fff').attr('stroke', '#333').attr('stroke-width', 1.5);
  const legY = d3.scalePoint(legendNames, [1391, 1494]);
  const legStyle = [
    [lineColors.v06, 3.4, '24 4 11 50'], [lineColors.v07, 3.4, '24 4 11 50'], ['#000', 5, '19 10 11 50'],
    [lineColors.halfV06, 1.3, null], [lineColors.halfV07, 1.3, null]
  ];
  legendNames.forEach((d, i) => {
    svg.append('line').attr('x1', 1211).attr('x2', 1250).attr('y1', legY(d)).attr('y2', legY(d))
      .attr('stroke', legStyle[i][0]).attr('stroke-width', legStyle[i][1]).attr('stroke-dasharray', legStyle[i][2]);
    label(svg, d, 1268.5, legY(d), { size: 20.5 });
  });
}

drawMap();
drawBox();
drawPrecip();
</script>
</body>
</html>
